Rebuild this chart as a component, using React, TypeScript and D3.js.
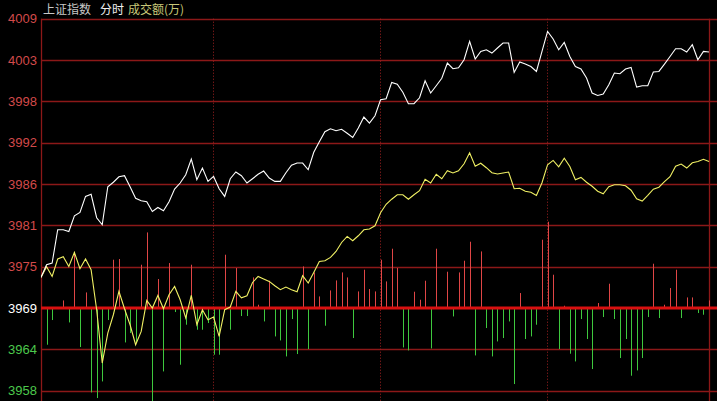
import React from "react";
import * as d3 from "d3";

const W = 717;
const H = 401;

// Price axis: previous close and grid step
const prevClose = 3969.4;
const gridStep = 5.667;
const tickLabels = ["4009", "4003", "3998", "3992", "3986", "3981", "3975", "3969", "3964", "3958"];
const tickOffsets = [7, 6, 5, 4, 3, 2, 1, 0, -1, -2];

// minute index 0..120 ; dotted time dividers
const timeDividers = [31, 61, 91];

// White line: index price
const priceSeries = [
  3973.60, 3975.34, 3975.57, 3980.13, 3980.13, 3979.90, 3982.05, 3982.51, 3984.70, 3985.00,
  3981.78, 3980.82, 3986.03, 3986.65, 3987.40, 3987.54, 3986.03, 3984.45, 3984.11, 3983.97,
  3982.64, 3983.19, 3982.74, 3983.97, 3985.71, 3986.54, 3987.68, 3989.83, 3986.99, 3988.59,
  3986.76, 3987.44, 3985.76, 3984.70, 3987.13, 3988.05, 3987.54, 3986.54, 3987.13, 3987.74,
  3988.18, 3987.22, 3986.76, 3986.76, 3987.95, 3988.98, 3989.28, 3989.28, 3988.36, 3990.76,
  3992.20, 3993.57, 3993.98, 3993.71, 3993.91, 3993.37, 3992.79, 3994.08, 3995.59, 3994.76,
  3995.76, 3997.96, 3998.10, 4000.33, 4000.08, 3998.99, 3997.41, 3997.41, 3998.23, 4000.56,
  3998.88, 3999.88, 4000.91, 4002.99, 4002.21, 4002.35, 4003.44, 4005.95, 4003.54, 4004.58,
  4004.81, 4004.36, 4005.05, 4005.73, 4005.73, 4001.70, 4003.13, 4002.85, 4002.52, 4001.84,
  4004.58, 4007.32, 4006.28, 4004.81, 4005.81, 4003.89, 4002.52, 4002.17, 4000.93, 3998.88,
  3998.55, 3998.74, 4000.01, 4001.62, 4001.52, 4002.17, 4002.39, 3999.70, 3999.88, 3999.88,
  4001.76, 4001.84, 4002.85, 4003.89, 4004.95, 4004.95, 4004.50, 4005.50, 4003.44, 4004.58,
  4004.50,
];

// Yellow line: leading (unweighted) index
const leadSeries = [
  3973.60, 3975.06, 3973.73, 3976.12, 3976.43, 3975.10, 3977.02, 3974.79, 3976.12, 3974.65,
  3969.17, 3961.86, 3965.97, 3968.48, 3971.68, 3969.30, 3967.11, 3964.37, 3966.19, 3970.44,
  3969.40, 3971.13, 3969.30, 3971.22, 3972.36, 3970.54, 3968.03, 3971.13, 3967.11, 3969.17,
  3967.80, 3968.17, 3965.51, 3969.17, 3969.54, 3971.68, 3970.81, 3971.09, 3972.91, 3973.73,
  3973.38, 3973.05, 3972.46, 3971.91, 3972.28, 3971.91, 3971.63, 3973.83, 3972.83, 3974.28,
  3975.79, 3975.88, 3976.34, 3977.16, 3978.39, 3979.22, 3978.63, 3979.31, 3980.13, 3980.23,
  3980.68, 3982.47, 3983.63, 3984.32, 3984.93, 3984.93, 3984.32, 3984.93, 3985.48, 3987.06,
  3986.54, 3987.74, 3987.13, 3988.22, 3987.91, 3988.22, 3989.18, 3990.69, 3988.84, 3989.25,
  3988.64, 3987.95, 3987.77, 3987.91, 3988.05, 3985.76, 3985.82, 3985.41, 3985.28, 3984.82,
  3986.58, 3989.05, 3989.64, 3988.77, 3989.94, 3988.81, 3986.99, 3987.31, 3986.65, 3986.10,
  3985.41, 3985.07, 3986.03, 3986.30, 3986.30, 3986.17, 3985.55, 3984.39, 3984.07, 3984.86,
  3985.69, 3985.96, 3986.72, 3987.40, 3988.84, 3989.14, 3988.59, 3989.32, 3989.50, 3989.80,
  3989.50,
];

// Red/green strength bars for minutes 1..120
const strengthBars = [
  -36.7, -12, -1, 7.6, -14.4, 55.6, -39, 15.6, -84.4, -90,
  -73.4, -12, 48.3, 49, -34.4, -25, -35, 43.3, 75.6, -95,
  29, -63.4, 45, -4, -56.7, -16.7, 43.3, -21.7, -21.7, -15,
  -46.7, -46.7, 53.3, -21.7, 40, -8, -8, 30.6, 3.3, -13.4,
  27.3, -28.4, -32.4, -48.4, -11, -46, 41.6, -41, 35.6, 11.6,
  -17.7, 17.6, 27.6, 35.6, 30.6, -30, 16.6, 38.3, 19, 16.6,
  48.3, 26.6, 59.3, 40, -39.4, -42.4, 16.3, 8.3, 27.3, -40.4,
  59.3, 0, 36.3, -8.4, 35.6, 47.3, 66.3, -47.4, 56.6, -20,
  -48.4, -33.4, -30, -13.4, -76, 15, -31, -28.4, -16.7, 68.3,
  86.3, 33.3, -41, 2.3, -45.7, -53.4, -11, -31, -61, 5,
  -9, 24.3, -11, -50, -31, -67.7, -62.4, -50, -9, 44.3,
  -10, 3.3, 20, 38.3, -10, 10.6, 10.6, -5, -6.7, 7.6,
];

const GRID = "#8c1818";
const RED_TXT = "#d24a4a";
const GREEN_TXT = "#4cc84c";
const BAR_RED = "#e04646";
const BAR_GREEN = "#3ec83e";

export default function App() {
  const left = 41;
  const right = 709;
  const top = 18.7;
  const bottom = 390.7;
  const x = d3.scaleLinear().domain([0, 120]).range([left, right]);
  const y = d3
    .scaleLinear()
    .domain([prevClose - 2 * gridStep, prevClose + 7 * gridStep])
    .range([bottom, top]);
  const baseY = y(prevClose);
  const yBar = d3.scaleLinear().domain([-100, 100]).range([baseY + 100, baseY - 100]);

  const line = d3
    .line<number>()
    .x((_, i) => x(i))
    .y((d) => y(d));

  const font = "'Liberation Sans', Arial, sans-serif";

  return (
    <svg
      width={W}
      height={H}
      style={{ position: "fixed", left: 0, top: 0, background: "#000", display: "block" }}
    >
      <rect x={0} y={0} width={W} height={H} fill="#000" />
      <defs>
        <clipPath id="plot">
          <rect x={left} y={top - 2} width={W - left} height={H - top + 2} />
        </clipPath>
      </defs>
      {/* horizontal grid */}
      {tickOffsets.map((o) => {
        const yy = Math.round(y(prevClose + o * gridStep)) + 0.5;
        if (o === 0) return null;
        return <line key={o} x1={left} x2={W} y1={yy} y2={yy} stroke={GRID} strokeWidth={1.3} />;
      })}
      {/* dotted time dividers */}
      {timeDividers.map((t) => {
        const xx = Math.round(x(t)) - 0.5;
        return (
          <line
            key={t}
            x1={xx}
            x2={xx}
            y1={top}
            y2={H}
            stroke="#a02020"
            strokeWidth={1}
            strokeDasharray="1,2"
          />
        );
      })}
      {/* left & right axis lines */}
      <line x1={left + 0.5} x2={left + 0.5} y1={top} y2={H} stroke={GRID} strokeWidth={1.3} />
      <line x1={right + 0.5} x2={right + 0.5} y1={top} y2={H} stroke={GRID} strokeWidth={1.3} />

      {/* strength bars */}
      <g clipPath="url(#plot)">
        {strengthBars.map((v, i) => {
          const xx = Math.round(x(i + 1)) + 0.5;
          if (v === 0) return null;
          return (
            <line
              key={i}
              x1={xx}
              x2={xx}
              y1={baseY}
              y2={yBar(v)}
              stroke={v > 0 ? BAR_RED : BAR_GREEN}
              strokeWidth={1}
            />
          );
        })}
      </g>
      {/* center line */}
      <line x1={left} x2={W} y1={baseY} y2={baseY} stroke="#d81010" strokeWidth={3} />

      {/* lines */}
      <g clipPath="url(#plot)">
        <path d={line(leadSeries) || ""} fill="none" stroke="#f0f064" strokeWidth={1.1} />
        <path d={line(priceSeries) || ""} fill="none" stroke="#ffffff" strokeWidth={1.1} />
      </g>

      {/* y labels */}
      {tickOffsets.map((o, i) => {
        const yy = y(prevClose + o * gridStep);
        const col = o > 0 ? RED_TXT : o < 0 ? GREEN_TXT : "#ffffff";
        return (
          <text
            key={o}
            x={37}
            y={yy + 4.5}
            textAnchor="end"
            fontFamily={font}
            fontSize={13}
            fill={col}
          >
            {tickLabels[i]}
          </text>
        );
      })}

      {/* title */}
      <text x={43} y={14} fontFamily="'Noto Sans CJK SC', sans-serif" fontSize={12} fill="#c8c8c8">
        上证指数
      </text>
      <text x={100} y={14} fontFamily="'Noto Sans CJK SC', sans-serif" fontSize={12} fill="#f0f0f0">
        分时
      </text>
      <text x={128} y={14} fontFamily="'Noto Sans CJK SC', sans-serif" fontSize={12} fill="#c8c878">
        成交额(万)
      </text>
    </svg>
  );
}
